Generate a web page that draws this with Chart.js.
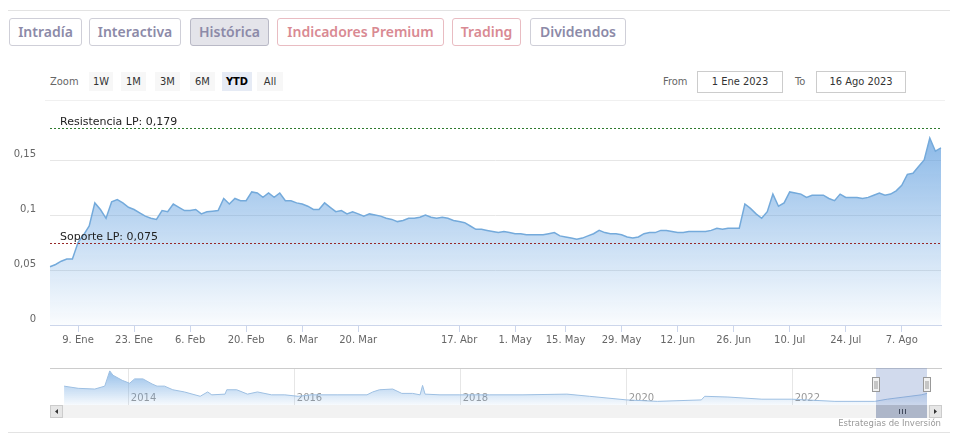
<!DOCTYPE html>
<html>
<head>
<meta charset="utf-8">
<script src="https://cdn.jsdelivr.net/npm/chart.js@4.4.0/dist/chart.umd.min.js"></script>
<style>
body{margin:0;background:#fff;width:960px;height:442px;position:relative;overflow:hidden;font-family:'DejaVu Sans',Verdana,sans-serif}
.rule{position:absolute;left:8px;width:942px;height:1px;background:#e3e3e3}
.tabs{position:absolute;top:18px;left:9px}
.tab{position:absolute;top:0;height:26px;line-height:26px;border:1px solid #cfcfd8;border-radius:3px;text-align:center;font-family:'Noto Sans',sans-serif;font-weight:600;font-size:14px;color:#8c8aa8;box-sizing:content-box}
.tab.on{background:#e4e4ea;border-color:#b9b9c6}
.tab.pink{color:#d98a93;border-color:#e9bcc2}
.zoomrow{position:absolute;top:72px;left:50px;font-family:'DejaVu Sans Condensed','Liberation Sans Narrow',sans-serif;font-stretch:condensed;font-size:11px;color:#666}
.zoomrow span{position:absolute;top:0;height:19px;line-height:19px;text-align:center}
.zb{background:#f7f7f7;color:#333}
.zb.sel{background:#e6ebf5;color:#000;font-weight:bold}
.inp{position:absolute;top:71px;height:20px;line-height:20px;border:1px solid #ccc;text-align:center;font-family:'DejaVu Sans Condensed','Liberation Sans Narrow',sans-serif;font-stretch:condensed;font-size:11px;color:#333}
.lbl{position:absolute;top:72px;line-height:19px;font-family:'DejaVu Sans Condensed','Liberation Sans Narrow',sans-serif;font-stretch:condensed;font-size:11px;color:#666}
#main{position:absolute;left:0;top:96px}
#nav{position:absolute;left:0;top:362px}
.credit{position:absolute;right:19px;top:418px;font-size:8.5px;color:#999}
</style>
</head>
<body>
<div class="rule" style="top:10px"></div>
<div class="tabs">
  <div class="tab" style="left:0;width:71px">Intradía</div>
  <div class="tab" style="left:80px;width:90px">Interactiva</div>
  <div class="tab on" style="left:181px;width:77px">Histórica</div>
  <div class="tab pink" style="left:268px;width:165px">Indicadores Premium</div>
  <div class="tab pink" style="left:443px;width:67px">Trading</div>
  <div class="tab" style="left:521px;width:94px">Dividendos</div>
</div>
<div class="zoomrow">
  <span style="left:0;width:32px;text-align:left">Zoom</span>
  <span class="zb" style="left:39px;width:24px">1W</span>
  <span class="zb" style="left:71px;width:25px">1M</span>
  <span class="zb" style="left:105px;width:25px">3M</span>
  <span class="zb" style="left:140px;width:25px">6M</span>
  <span class="zb sel" style="left:172px;width:30px">YTD</span>
  <span class="zb" style="left:207px;width:26px">All</span>
</div>
<div class="lbl" style="left:663px">From</div>
<div class="inp" style="left:697px;width:84px">1 Ene 2023</div>
<div class="lbl" style="left:795px">To</div>
<div class="inp" style="left:816px;width:88px">16 Ago 2023</div>
<div class="rule" style="top:100px;left:45px;width:900px;background:#f0f0f0"></div>
<canvas id="main" width="960" height="259"></canvas>
<canvas id="nav" width="960" height="58"></canvas>
<div class="credit">Estrategias de Inversión</div>
<div class="rule" style="top:432px"></div>

<script>
// periodo YTD: sesiones de bolsa
var startDate = '2023-01-02';
var endDate = '2023-08-16';
var holidays = ['2023-04-07', '2023-04-10', '2023-05-01'];

// cierre diario (una cifra por sesion)
var prices = [
  0.053, 0.055, 0.058, 0.060, 0.060, 0.075, 0.082, 0.090, 0.111, 0.105,
  0.097, 0.112, 0.114, 0.111, 0.107, 0.105, 0.102, 0.099, 0.097, 0.096,
  0.104, 0.103, 0.110, 0.107, 0.104, 0.104, 0.105, 0.101, 0.103, 0.1035,
  0.104, 0.115, 0.110, 0.115, 0.113, 0.113, 0.121, 0.120, 0.116, 0.120,
  0.116, 0.120, 0.113, 0.113, 0.111, 0.110, 0.108, 0.105, 0.105, 0.111,
  0.107, 0.103, 0.104, 0.101, 0.103, 0.101, 0.099, 0.101, 0.100, 0.099,
  0.097, 0.096, 0.094, 0.095, 0.097, 0.097, 0.098, 0.100, 0.098, 0.097,
  0.098, 0.097, 0.095, 0.094, 0.093, 0.090, 0.087, 0.087, 0.086, 0.085,
  0.084, 0.085, 0.084, 0.083, 0.083, 0.082, 0.082, 0.082, 0.082, 0.083,
  0.084, 0.081, 0.080, 0.079, 0.078, 0.079, 0.081, 0.083, 0.086, 0.084,
  0.083, 0.083, 0.082, 0.080, 0.079, 0.080, 0.083, 0.084, 0.084, 0.086,
  0.086, 0.085, 0.084, 0.084, 0.085, 0.085, 0.085, 0.085, 0.086, 0.088,
  0.087, 0.088, 0.088, 0.088, 0.110, 0.106, 0.101, 0.097, 0.103, 0.119,
  0.108, 0.111, 0.121, 0.120, 0.119, 0.116, 0.118, 0.118, 0.118, 0.115,
  0.113, 0.119, 0.116, 0.116, 0.116, 0.115, 0.116, 0.118, 0.120, 0.118,
  0.119, 0.122, 0.127, 0.137, 0.138, 0.144, 0.150, 0.170, 0.158, 0.161
];

var tickDates = ['2023-01-09','2023-01-23','2023-02-06','2023-02-20','2023-03-06','2023-03-20',
  '2023-04-17','2023-05-01','2023-05-15','2023-05-29','2023-06-12','2023-06-26','2023-07-10','2023-07-24','2023-08-07'];
var tickLabels = ['9. Ene','23. Ene','6. Feb','20. Feb','6. Mar','20. Mar',
  '17. Abr','1. May','15. May','29. May','12. Jun','26. Jun','10. Jul','24. Jul','7. Ago'];
var yStep = 0.05;
var yMax = 0.19;

var resistance = 0.179;
var support = 0.075;

// navegador: historico largo (año decimal, cotizacion)
var navYears = [2013.22, 2013.39, 2013.59, 2013.71, 2013.77, 2013.81, 2013.92, 2014.01, 2014.07, 2014.17,
  2014.28, 2014.34, 2014.43, 2014.53, 2014.67, 2014.86, 2014.95, 2015.00, 2015.16, 2015.18,
  2015.30, 2015.43, 2015.55, 2015.72, 2015.88, 2016.04, 2016.20, 2016.52, 2016.87, 2016.94,
  2017.02, 2017.18, 2017.29, 2017.42, 2017.51, 2017.54, 2017.57, 2017.75, 2017.99, 2018.35,
  2018.75, 2019.28, 2019.55, 2020.00, 2020.37, 2020.90, 2020.94, 2021.22, 2021.63, 2021.99,
  2022.51, 2022.99, 2023.14, 2023.55, 2023.62];
var navValues = [0.26, 0.23, 0.22, 0.26, 0.47, 0.41, 0.34, 0.30, 0.36, 0.36,
  0.29, 0.26, 0.26, 0.21, 0.18, 0.12, 0.18, 0.14, 0.15, 0.21,
  0.21, 0.15, 0.18, 0.14, 0.14, 0.12, 0.14, 0.14, 0.14, 0.18,
  0.21, 0.22, 0.16, 0.16, 0.14, 0.27, 0.15, 0.14, 0.14, 0.14,
  0.14, 0.15, 0.12, 0.07, 0.05, 0.07, 0.12, 0.11, 0.08, 0.08,
  0.05, 0.05, 0.08, 0.14, 0.16];
var navYearLabels = [2014, 2016, 2018, 2020, 2022];
var navMin = 2013.05, navMax = 2023.8;
var rangeFrom = 2023.0, rangeTo = 2023.62;

// construir sesiones
function iso(d){ return d.toISOString().slice(0,10); }
var days = [];
var d = new Date(startDate + 'T00:00:00Z');
var end = new Date(endDate + 'T00:00:00Z');
while (d <= end) {
  var wd = d.getUTCDay();
  if (wd !== 0 && wd !== 6 && holidays.indexOf(iso(d)) < 0) days.push(iso(d));
  d = new Date(d.getTime() + 86400000);
}
var labelAt = {};
tickDates.forEach(function(td, k){
  for (var i = 0; i < days.length; i++) { if (days[i] >= td) { labelAt[i] = tickLabels[k]; break; } }
});

var fmt = function(v){ return String(+v.toFixed(3)).replace('.', ','); };

var levelLines = {
  id: 'levels',
  afterDatasetsDraw: function(chart){
    var c = chart.ctx, a = chart.chartArea, y = chart.scales.y;
    [[resistance, '#2e7a2e', 'Resistencia LP: '], [support, '#962828', 'Soporte LP: ']].forEach(function(l){
      var py = Math.round(y.getPixelForValue(l[0])) + 0.5;
      c.save();
      c.strokeStyle = l[1]; c.lineWidth = 1; c.setLineDash([2, 2]);
      c.beginPath(); c.moveTo(a.left, py); c.lineTo(a.right, py); c.stroke();
      c.setLineDash([]);
      c.fillStyle = '#222'; c.font = '11px "DejaVu Sans"'; c.textBaseline = 'bottom';
      c.fillText(l[2] + fmt(l[0]), a.left + 10, py - 1);
      c.restore();
    });
  }
};

new Chart(document.getElementById('main'), {
  type: 'line',
  data: {
    labels: days,
    datasets: [{
      data: prices,
      borderColor: '#74aadb',
      borderWidth: 1.5,
      pointRadius: 0,
      fill: 'origin',
      backgroundColor: function(ctx){
        var a = ctx.chart.chartArea;
        if (!a) return 'rgba(100,160,220,0.4)';
        var g = ctx.chart.ctx.createLinearGradient(0, a.top, 0, a.bottom);
        g.addColorStop(0, 'rgba(92,156,222,0.78)');
        g.addColorStop(1, 'rgba(92,156,222,0.03)');
        return g;
      }
    }]
  },
  options: {
    responsive: false,
    animation: false,
    layout: { padding: { top: 13, right: 19, left: 0, bottom: 0 } },
    plugins: { legend: { display: false }, tooltip: { enabled: false } },
    scales: {
      x: {
        afterBuildTicks: function(s){ s.ticks = s.ticks.filter(function(t){ return labelAt[t.value] !== undefined; }); },
        afterFit: function(s){ s.height = 30; },
        ticks: { autoSkip: false, maxRotation: 0, color: '#666', font: { family: 'DejaVu Sans', size: 10 }, padding: 2,
          callback: function(v){ return labelAt[v]; } },
        grid: { drawOnChartArea: false, drawTicks: true, tickLength: 7, color: '#ccd6eb' },
        border: { color: '#ccd6eb' }
      },
      y: {
        min: 0, max: yMax,
        afterBuildTicks: function(s){ s.ticks = s.ticks.filter(function(t){ var r = t.value / yStep; return Math.abs(r - Math.round(r)) < 1e-6; }); },
        afterFit: function(s){ s.width = 50; },
        ticks: { stepSize: yStep, color: '#666', font: { family: 'DejaVu Sans', size: 10 }, padding: 14, labelOffset: -6,
          callback: function(v){ return fmt(v); } },
        grid: { color: '#e6e6e6', drawTicks: false },
        border: { display: false }
      }
    }
  },
  plugins: [levelLines]
});

var navDecor = {
  id: 'navDecor',
  beforeDatasetsDraw: function(chart){
    var c = chart.ctx, a = chart.chartArea, x = chart.scales.x;
    c.save();
    c.fillStyle = '#999'; c.font = '10px "DejaVu Sans"'; c.textBaseline = 'middle';
    navYearLabels.forEach(function(yr){ c.fillText(String(yr), x.getPixelForValue(yr) + 2, a.bottom - 7); });
    c.restore();
  },
  afterDraw: function(chart){
    var c = chart.ctx, a = chart.chartArea, x = chart.scales.x;
    var sbTop = a.bottom, sbH = 13;
    var x0 = Math.round(x.getPixelForValue(rangeFrom)), x1 = Math.round(x.getPixelForValue(rangeTo));
    c.save();
    // borde superior
    c.strokeStyle = '#cccccc'; c.lineWidth = 1;
    c.beginPath(); c.moveTo(a.left, a.top + 0.5); c.lineTo(a.right, a.top + 0.5); c.stroke();
    // scrollbar
    c.fillStyle = '#f2f2f2'; c.fillRect(a.left, sbTop, a.right - a.left, sbH);
    c.fillStyle = '#e6e6e6'; c.strokeStyle = '#cccccc';
    c.fillRect(a.left, sbTop, 13, sbH); c.strokeRect(a.left + 0.5, sbTop + 0.5, 12, sbH - 1);
    c.fillRect(a.right - 13, sbTop, 13, sbH); c.strokeRect(a.right - 12.5, sbTop + 0.5, 12, sbH - 1);
    c.fillStyle = '#333';
    c.beginPath(); c.moveTo(a.left + 5, sbTop + 6.5); c.lineTo(a.left + 8, sbTop + 4); c.lineTo(a.left + 8, sbTop + 9); c.fill();
    c.beginPath(); c.moveTo(a.right - 5, sbTop + 6.5); c.lineTo(a.right - 8, sbTop + 4); c.lineTo(a.right - 8, sbTop + 9); c.fill();
    c.fillStyle = '#cccccc'; c.fillRect(x0, sbTop, x1 - x0, sbH);
    c.strokeStyle = '#333';
    for (var k = -1; k <= 1; k++) { var lx = Math.round((x0 + x1) / 2) + k * 3 + 0.5; c.beginPath(); c.moveTo(lx, sbTop + 4); c.lineTo(lx, sbTop + 9); c.stroke(); }
    // zona seleccionada
    c.fillStyle = 'rgba(102,133,194,0.3)';
    c.fillRect(x0, a.top, x1 - x0, a.bottom - a.top + sbH);
    [x0, x1].forEach(function(hx){
      c.fillStyle = '#f2f2f2'; c.strokeStyle = '#999';
      c.fillRect(hx - 3.5, a.top + 9, 7, 15); c.strokeRect(hx - 3.5, a.top + 9.5, 7, 14);
      c.beginPath(); c.moveTo(hx - 1 , a.top + 13); c.lineTo(hx - 1, a.top + 21); c.moveTo(hx + 1, a.top + 13); c.lineTo(hx + 1, a.top + 21); c.stroke();
    });
    c.restore();
  }
};

new Chart(document.getElementById('nav'), {
  type: 'line',
  data: {
    datasets: [{
      data: navYears.map(function(yr, i){ return { x: yr, y: navValues[i] }; }),
      borderColor: '#9dbfe2',
      borderWidth: 1,
      pointRadius: 0,
      fill: 'origin',
      backgroundColor: function(ctx){
        var a = ctx.chart.chartArea;
        if (!a) return 'rgba(100,160,220,0.3)';
        var g = ctx.chart.ctx.createLinearGradient(0, a.top, 0, a.bottom);
        g.addColorStop(0, 'rgba(92,156,222,0.7)');
        g.addColorStop(1, 'rgba(92,156,222,0.05)');
        return g;
      }
    }]
  },
  options: {
    responsive: false,
    animation: false,
    layout: { padding: { top: 6, right: 18, left: 50, bottom: 15 } },
    plugins: { legend: { display: false }, tooltip: { enabled: false } },
    scales: {
      x: {
        type: 'linear', min: navMin, max: navMax,
        afterBuildTicks: function(s){ s.ticks = navYearLabels.map(function(v){ return { value: v }; }); },
        afterFit: function(s){ s.height = 0; },
        ticks: { display: false },
        grid: { color: '#e6e6e6', drawTicks: false },
        border: { display: false }
      },
      y: { display: false, min: 0, max: 0.51 }
    }
  },
  plugins: [navDecor]
});
</script>
</body>
</html>
